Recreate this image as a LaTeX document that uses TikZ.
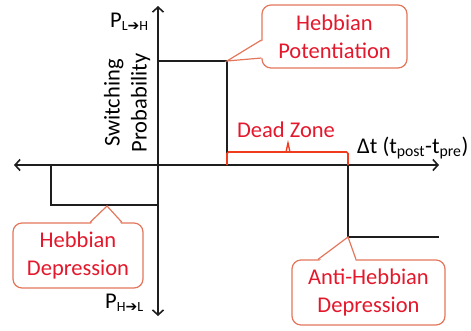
\documentclass[tikz,border=0pt]{standalone}
\usepackage{fontspec}
\setmainfont{Carlito}
\newfontfamily\symfont{DejaVu Sans}
\usetikzlibrary{arrows.meta,calc}
\definecolor{calloutline}{RGB}{228,118,92}
\definecolor{labelred}{RGB}{228,24,44}
\definecolor{bracered}{RGB}{240,60,30}
\definecolor{inkdark}{RGB}{30,30,30}
\newcommand{\sarrow}{{\symfont\bfseries ➔}}
\tikzset{
  axis/.style={line width=1.8pt, draw=inkdark, {Straight Barb[length=5pt,width=11pt,line width=1.6pt]}-{Straight Barb[length=5pt,width=11pt,line width=1.6pt]}},
  curve/.style={line width=2pt, draw=inkdark},
  brace/.style={line width=1.6pt, draw=bracered, rounded corners=1.5pt},
  calloutbox/.style={draw=calloutline, line width=1.2pt, fill=white, rounded corners=9pt, inner sep=0pt},
  pointer/.style={draw=calloutline, line width=1.2pt},
  calltext/.style={text=labelred, align=center, font=\fontsize{22.5}{28}\selectfont},
  plaintext/.style={text=black, font=\fontsize{22.5}{27}\selectfont},
}
\begin{document}
\begin{tikzpicture}[x=1pt,y=-1pt]
  \useasboundingbox (0,0) rectangle (471,330);
  % axes
  \coordinate (xl) at (14,165);
  \coordinate (xr) at (439,165);
  \coordinate (yt) at (158,6);
  \coordinate (yb) at (158,316);
  \draw[axis] (xl) -- (xr);
  \draw[axis] (yb) -- (yt);
  % switching probability curve
  \coordinate (o) at (158,165);
  \coordinate (potTop) at (158,61);
  \coordinate (potCorner) at (227,61);
  \coordinate (potFoot) at (227,165);
  \coordinate (depRight) at (158,205);
  \coordinate (depCorner) at (51,205);
  \coordinate (depFoot) at (51,165);
  \coordinate (antiFoot) at (348,165);
  \coordinate (antiCorner) at (348,237);
  \coordinate (antiEnd) at (439,237);
  \draw[curve] (potTop) -- (potCorner) -- (potFoot);
  \draw[curve] (depRight) -- (depCorner) -- (depFoot);
  \draw[curve] (antiFoot) -- (antiCorner) -- (antiEnd);
  % dead zone brace
  \coordinate (bl) at (227,152);
  \coordinate (br) at (348,152);
  \coordinate (bm) at (288,152);
  \coordinate (btip) at (288,143);
  \draw[brace] (potFoot) -- (bl) -- (br) -- (antiFoot);
  \draw[line width=1.4pt, draw=bracered] ($(bm)+(-2,0)$) -- (btip) -- ($(bm)+(2,0)$);
  \node[text=labelred, font=\fontsize{22.5}{27}\selectfont] (dead) at (286,130) {Dead Zone};
  % axis labels
  \node[plaintext, anchor=base west, inner sep=0pt] (dt) at (357,153) {Δt (t\textsubscript{post}-t\textsubscript{pre})};
  \node[plaintext, anchor=base west, inner sep=0pt] (plh) at (110,27) {P\textsubscript{\fontsize{14}{14}\selectfont L\sarrow H}};
  \node[plaintext, anchor=base west, inner sep=0pt] (phl) at (105,308) {P\textsubscript{\fontsize{14}{14}\selectfont H\sarrow L}};
  \node[plaintext, align=center, rotate=90, font=\fontsize{22.5}{27}\selectfont] (sp) at (127,103) {Switching\\Probability};
  % callout: Hebbian potentiation
  \node[calloutbox, minimum width=145pt, minimum height=63pt] (potBox) at (334.5,36.5) {};
  \fill[white] (264,40) -- (potCorner) -- (264,58) -- cycle;
  \draw[pointer] (potBox.west |- 0,40) -- (potCorner) -- (potBox.west |- 0,58);
  \node[calltext] (potText) at (potBox) {Hebbian\\Potentiation};
  % callout: Hebbian depression
  \node[calloutbox, minimum width=130pt, minimum height=65pt] (depBox) at (78,255.5) {};
  \coordinate (depTip) at (107,206);
  \fill[white] (90,225) -- (depTip) -- (122,225) -- cycle;
  \draw[pointer] (depBox.north -| 90,0) -- (depTip) -- (depBox.north -| 122,0);
  \node[calltext] (depText) at (depBox) {Hebbian\\Depression};
  % callout: anti-Hebbian depression
  \node[calloutbox, minimum width=153pt, minimum height=65pt] (antiBox) at (368.5,292.5) {};
  \fill[white] (318,262) -- (antiCorner) -- (356,262) -- cycle;
  \draw[pointer] (antiBox.north -| 318,0) -- (antiCorner) -- (antiBox.north -| 356,0);
  \node[calltext] (antiText) at (antiBox) {Anti-Hebbian\\Depression};
\end{tikzpicture}
\end{document}
